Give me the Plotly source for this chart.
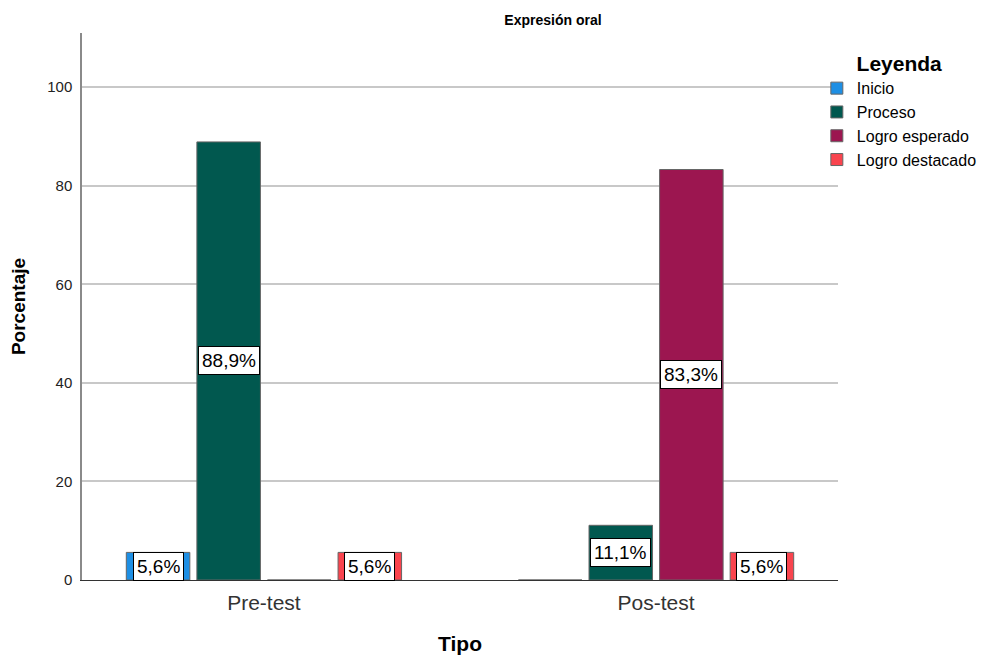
import plotly.graph_objects as go

categories = ["Pre-test", "Pos-test"]
series_names = ["Inicio", "Proceso", "Logro esperado", "Logro destacado"]
inicio = [5.6, 0.0]
proceso = [88.9, 11.1]
logro_esperado = [0.0, 83.3]
logro_destacado = [5.6, 5.6]
y_ticks = [0, 20, 40, 60, 80, 100]

series_values = [inicio, proceso, logro_esperado, logro_destacado]
colors = ["#1e8fe4", "#01584f", "#9c1650", "#f9444e"]

x_pos = list(range(len(categories)))
bargap = 0.28
group_w = 1 - bargap
slot = group_w / len(series_names)

FONT = "Liberation Sans, Arial"
W, H = 981, 647  # page adds an 8px body margin

fig = go.Figure()
annotations = []
for i, (name, vals, col) in enumerate(zip(series_names, series_values, colors)):
    fig.add_trace(go.Bar(
        x=x_pos, y=vals, name=name,
        marker=dict(color=col, line=dict(color="#666666", width=1)),
        hoverinfo="skip",
    ))
    off = -group_w / 2 + slot * (i + 0.5)
    for xp, v in zip(x_pos, vals):
        if v > 0:
            annotations.append(dict(
                x=xp + off, y=v / 2, xref="x", yref="y",
                text=f"{v:.1f}%".replace(".", ","), showarrow=False,
                font=dict(family=FONT, size=19, color="#000"),
                bgcolor="white", bordercolor="#000", borderwidth=1, borderpad=3,
                xanchor="center", yanchor="middle",
            ))

fig.update_layout(
    width=W, height=H,
    margin=dict(l=74, r=151, t=25, b=75, autoexpand=False),
    paper_bgcolor="white", plot_bgcolor="white",
    barmode="group", bargap=bargap, bargroupgap=0.1,
    font=dict(family=FONT, color="#000"),
    title=dict(text="<b>Expresión oral</b>", x=545 / W, xanchor="center", xref="container",
               y=1 - 12 / H, yanchor="middle", yref="container", font=dict(size=14)),
    xaxis=dict(
        range=[-0.464, 1.464], tickvals=x_pos, ticktext=categories,
        showgrid=False, zeroline=False, showline=True, linecolor="#333", linewidth=1,
        tickfont=dict(size=21, color="#333"), ticks="", ticklabelstandoff=4, automargin=False,
        title=dict(text="<b>Tipo</b>", font=dict(size=21), standoff=26),
    ),
    yaxis=dict(
        range=[0, 111], tickvals=y_ticks,
        showgrid=True, gridcolor="#c8c8c8", gridwidth=1.5, zeroline=False,
        showline=True, linecolor="#8a8a8a", linewidth=1.5,
        ticks="", ticklabelstandoff=5, automargin=False,
        tickfont=dict(size=15, color="#222"),
        title=dict(text="<b>Porcentaje</b>", font=dict(size=19), standoff=17),
    ),
    legend=dict(
        x=0.972, xanchor="left", y=0.98, yanchor="top", itemwidth=30,
        title=dict(text="<b>Leyenda</b>", font=dict(size=21), side="top center"),
        font=dict(size=16), tracegroupgap=0, bgcolor="rgba(0,0,0,0)",
    ),
    annotations=annotations,
    showlegend=True,
)

fig.write_html("out.html")
